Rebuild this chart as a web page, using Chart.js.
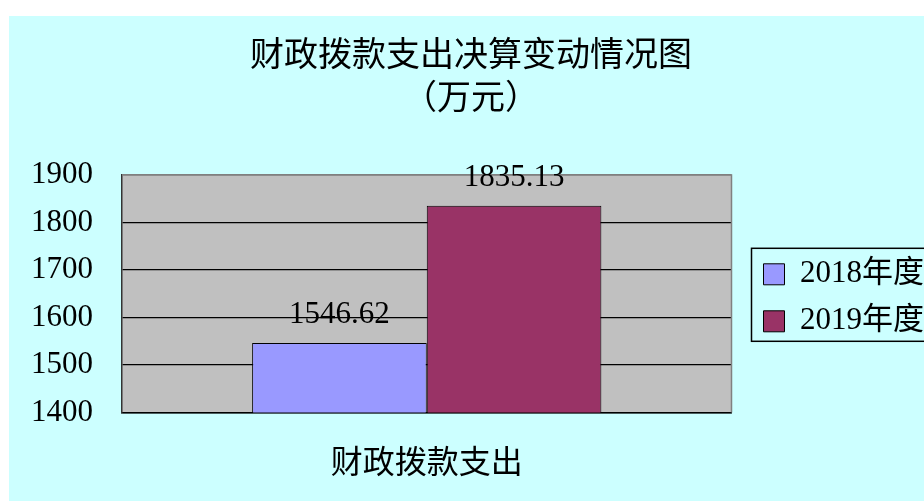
<!DOCTYPE html>
<html>
<head>
<meta charset="utf-8">
<script src="https://cdn.jsdelivr.net/npm/chart.js@4.4.1/dist/chart.umd.min.js"></script>
<style>
  html, body { margin: 0; padding: 0; background: #ffffff; overflow: hidden; }
  #wrap { width: 924px; height: 501px; }
</style>
</head>
<body>
<div id="wrap"><canvas id="c" width="924" height="501"></canvas></div>
<script>
// ---- data ----
const categories = ['财政拨款支出'];
const seriesNames = ['2018年度', '2019年度'];
const values2018 = [1546.62];
const values2019 = [1835.13];
const seriesColors = ['#9999FF', '#993366'];
const yMin = 1400;
const yMax = 1900;
const yStep = 100;
const titleLines = ['财政拨款支出决算变动情况图', '（万元）'];

const SERIF = "'Liberation Serif', 'Noto Sans CJK SC', serif";

const bgPlugin = {
  id: 'bgPlugin',
  beforeDraw(chart) {
    const ctx = chart.ctx;
    const a = chart.chartArea;
    ctx.save();
    ctx.fillStyle = '#ffffff';
    ctx.fillRect(0, 0, chart.width, chart.height);
    ctx.fillStyle = '#CCFFFF';
    ctx.fillRect(9, 16, chart.width - 9, chart.height - 16);
    ctx.fillStyle = '#C0C0C0';
    ctx.fillRect(a.left, a.top, a.right - a.left, a.bottom - a.top);
    ctx.restore();
  },
  afterLayout(chart) {
    const lg = chart.legend;
    if (lg) {
      lg.left += 16; lg.right += 16;
      lg.top += 4; lg.bottom += 4;
    }
    const tb = chart.titleBlock;
    if (tb) {
      const shift = 471 - (tb.left + tb.right) / 2;
      tb.left += shift; tb.right += shift;
    }
  },
  afterDatasetsDraw(chart) {
    const ctx = chart.ctx;
    const a = chart.chartArea;
    ctx.save();
    // gray plot border top/right
    ctx.strokeStyle = '#808080';
    ctx.lineWidth = 1.5;
    ctx.beginPath();
    ctx.moveTo(a.left, a.top);
    ctx.lineTo(a.right, a.top);
    ctx.lineTo(a.right, a.bottom);
    ctx.stroke();
    // data labels
    ctx.fillStyle = '#000';
    ctx.font = '31px ' + SERIF;
    ctx.textAlign = 'center';
    ctx.textBaseline = 'middle';
    chart.data.datasets.forEach((ds, di) => {
      const meta = chart.getDatasetMeta(di);
      meta.data.forEach((bar, i) => {
        ctx.fillText(ds.data[i].toFixed(2), bar.x, bar.y - 28);
      });
    });
    ctx.restore();
  },
  afterDraw(chart) {
    const lg = chart.legend;
    if (!lg || !lg.legendHitBoxes || lg.legendHitBoxes.length < 2) return;
    const hb = lg.legendHitBoxes;
    const ctx = chart.ctx;
    const c1 = hb[0].top + hb[0].height / 2;
    const c2 = hb[hb.length - 1].top + hb[hb.length - 1].height / 2;
    const x = hb[0].left - 12;
    const y = c1 - 26;
    ctx.save();
    ctx.strokeStyle = '#000';
    ctx.lineWidth = 1.5;
    ctx.strokeRect(x, y, 400, (c2 + 20) - y);
    ctx.restore();
  }
};

new Chart(document.getElementById('c'), {
  type: 'bar',
  data: {
    labels: categories,
    datasets: [
      { label: seriesNames[0], data: values2018, backgroundColor: seriesColors[0], borderColor: '#000', borderWidth: 1 },
      { label: seriesNames[1], data: values2019, backgroundColor: seriesColors[1], borderColor: '#000', borderWidth: 1 }
    ]
  },
  options: {
    responsive: false,
    animation: false,
    devicePixelRatio: 1,
    layout: { padding: { left: 2, right: 6, top: 0, bottom: -16 } },
    datasets: { bar: { categoryPercentage: 0.573, barPercentage: 1.0 } },
    scales: {
      x: {
        grid: { display: false, drawTicks: false },
        border: { display: true, color: '#000', width: 1.5 },
        ticks: { color: '#000', padding: 33, font: { family: SERIF, size: 32, lineHeight: 1.2 } }
      },
      y: {
        min: yMin, max: yMax,
        ticks: {
          stepSize: yStep, color: '#000', padding: 29,
          font: { family: SERIF, size: 31 },
          callback: (v) => String(v)
        },
        grid: {
          drawTicks: false,
          lineWidth: 1.2,
          color: (ctx) => (ctx.tick && ctx.tick.value === yMax) ? '#808080' : '#000'
        },
        border: { display: true, color: '#333', width: 1.5 }
      }
    },
    plugins: {
      title: {
        display: true,
        text: titleLines,
        color: '#000',
        font: { family: SERIF, size: 34, weight: 'normal', lineHeight: 1.25 },
        padding: { top: 36, bottom: 54 }
      },
      legend: {
        display: true,
        position: 'right',
        fullSize: false,
        align: 'center',
        labels: {
          color: '#000',
          boxWidth: 21,
          boxHeight: 21,
          padding: 16,
          font: { family: SERIF, size: 31 }
        }
      },
      tooltip: { enabled: false }
    }
  },
  plugins: [bgPlugin]
});
</script>
</body>
</html>
